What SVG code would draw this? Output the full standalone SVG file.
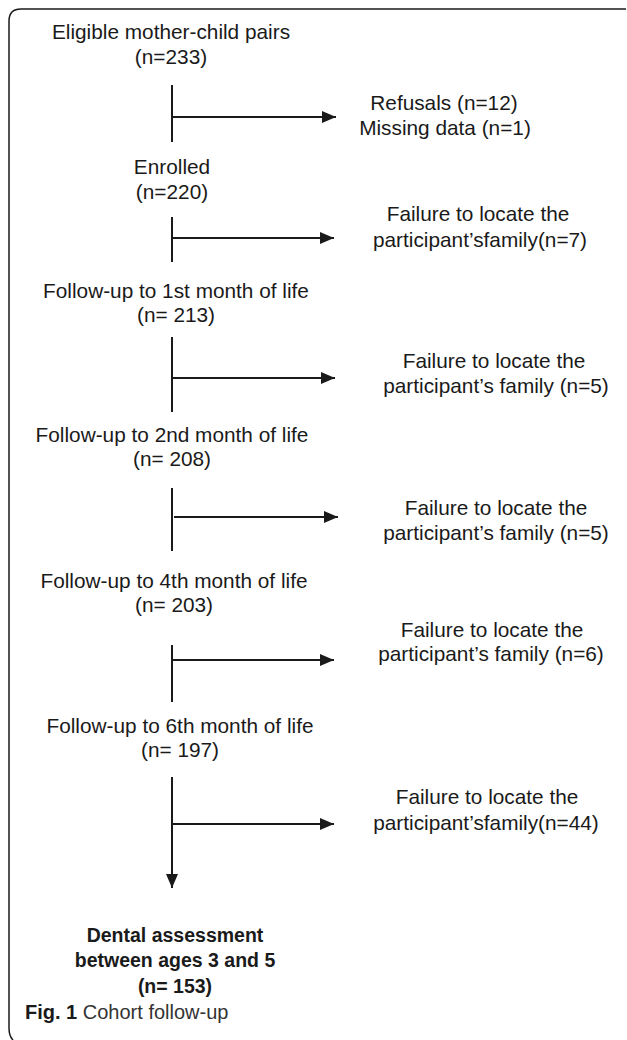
<svg xmlns="http://www.w3.org/2000/svg" width="627" height="1040" viewBox="0 0 627 1040">
<style>
text{font-family:"Liberation Sans",Arial,sans-serif;font-size:20.8px;fill:#1a1a1a;text-anchor:middle}
.b{font-weight:bold;font-size:19.5px}
.ln{stroke:#1a1a1a;stroke-width:2;fill:none}
.cap{text-anchor:start;font-size:20px}
</style>
<defs>
<marker id="ah" viewBox="0 0 14 12" refX="14" refY="6" markerWidth="14" markerHeight="12" markerUnits="userSpaceOnUse" orient="auto">
<path d="M0,0 L14,6 L0,12 z" fill="#1a1a1a"/>
</marker>
</defs>
<rect width="627" height="1040" fill="#fff"/>
<path d="M626,9 H21 Q9,9 9,21 V1028 Q9,1036 13,1040" fill="none" stroke="#1a1a1a" stroke-width="1.5"/>
<g id="n1"><text x="171" y="39">Eligible mother-child pairs</text><text x="171" y="64">(n=233)</text></g>
<g id="x1"><text x="444" y="110">Refusals (n=12)</text><text x="445" y="135">Missing data (n=1)</text></g>
<g id="n2"><text x="172" y="174">Enrolled</text><text x="172" y="199">(n=220)</text></g>
<g id="x2"><text x="478" y="221">Failure to locate the</text><text x="480" y="247">participant’sfamily(n=7)</text></g>
<g id="n3"><text x="176" y="298">Follow-up to 1st month of life</text><text x="176" y="322">(n= 213)</text></g>
<g id="x3"><text x="494" y="368">Failure to locate the</text><text x="496" y="393">participant’s family (n=5)</text></g>
<g id="n4"><text x="172" y="442">Follow-up to 2nd month of life</text><text x="172" y="466">(n= 208)</text></g>
<g id="x4"><text x="496" y="515">Failure to locate the</text><text x="496" y="540">participant’s family (n=5)</text></g>
<g id="n5"><text x="174" y="588">Follow-up to 4th month of life</text><text x="174" y="612">(n= 203)</text></g>
<g id="x5"><text x="492" y="637">Failure to locate the</text><text x="491" y="661">participant’s family (n=6)</text></g>
<g id="n6"><text x="180" y="733">Follow-up to 6th month of life</text><text x="180" y="757">(n= 197)</text></g>
<g id="x6"><text x="487" y="804">Failure to locate the</text><text x="486" y="830">participant’sfamily(n=44)</text></g>
<g id="n7"><text class="b" x="175" y="942">Dental assessment</text><text class="b" x="175" y="967">between ages 3 and 5</text><text class="b" x="175" y="993">(n= 153)</text></g>
<g id="connectors">
<line class="ln" x1="172" y1="85" x2="172" y2="142"/>
<line class="ln" x1="172" y1="117" x2="336" y2="117" marker-end="url(#ah)"/>
<line class="ln" x1="172" y1="217" x2="172" y2="262"/>
<line class="ln" x1="172" y1="238" x2="334" y2="238" marker-end="url(#ah)"/>
<line class="ln" x1="172" y1="337" x2="172" y2="412"/>
<line class="ln" x1="172" y1="378" x2="335" y2="378" marker-end="url(#ah)"/>
<line class="ln" x1="172" y1="488" x2="172" y2="551"/>
<line class="ln" x1="174" y1="517" x2="338" y2="517" marker-end="url(#ah)"/>
<line class="ln" x1="172" y1="645" x2="172" y2="702"/>
<line class="ln" x1="172" y1="660" x2="334" y2="660" marker-end="url(#ah)"/>
<line class="ln" x1="172" y1="777" x2="172" y2="888" marker-end="url(#ah)"/>
<line class="ln" x1="172" y1="824" x2="334" y2="824" marker-end="url(#ah)"/>
</g>
<text class="cap" x="25" y="1019"><tspan font-weight="bold">Fig. 1</tspan><tspan fill="#333"> Cohort follow-up</tspan></text>
</svg>
